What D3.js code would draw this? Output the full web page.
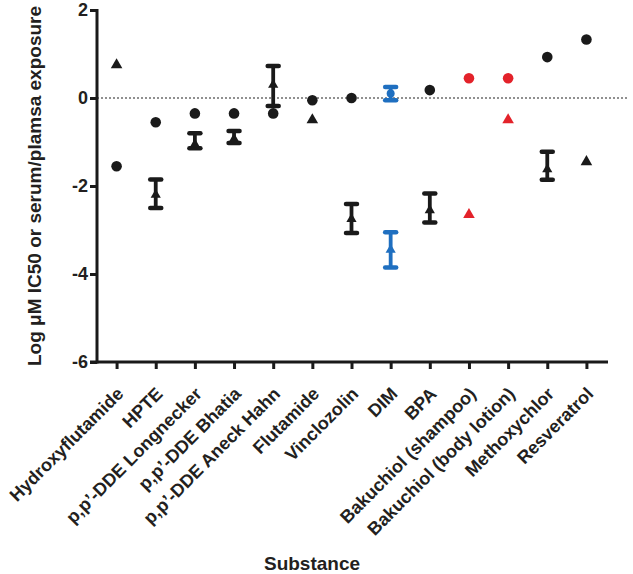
<!DOCTYPE html>
<html>
<head>
<meta charset="utf-8">
<script src="https://cdn.jsdelivr.net/npm/d3@7"></script>
<style>
  body { margin: 0; background: #fff; }
  svg text { font-family: "Liberation Sans", Arial, sans-serif; font-weight: bold; fill: #231f20; }
</style>
</head>
<body>
<svg id="chart" width="633" height="574"></svg>
<script>
const substances = ["Hydroxyflutamide", "HPTE", "p,p\u2019-DDE Longnecker", "p,p\u2019-DDE Bhatia",
  "p,p\u2019-DDE Aneck Hahn", "Flutamide", "Vinclozolin", "DIM", "BPA",
  "Bakuchiol (shampoo)", "Bakuchiol (body lotion)", "Methoxychlor", "Resveratrol"];
const groups = ["black", "black", "black", "black", "black", "black", "black", "blue", "black", "red", "red", "black", "black"];
// serum/plasma exposure (circles); low/high where a range is shown
const exposure     = [-1.55, -0.55, -0.35, -0.35, -0.35, -0.05, 0.0, 0.1, 0.18, 0.45, 0.45, 0.93, 1.33];
const exposureLow  = [null, null, null, null, null, null, null, -0.05, null, null, null, null, null];
const exposureHigh = [null, null, null, null, null, null, null, 0.25, null, null, null, null, null];
// IC50 (triangles); low/high where a range is shown
const ic50     = [0.75, -2.2, -1.05, -0.93, 0.3, -0.5, -2.75, -3.45, -2.55, -2.65, -0.5, -1.62, -1.45];
const ic50Low  = [null, -2.5, -1.14, -1.02, -0.18, null, -3.07, -3.85, -2.83, null, null, -1.86, null];
const ic50High = [null, -1.85, -0.8, -0.75, 0.73, null, -2.41, -3.05, -2.17, null, null, -1.22, null];
const yTicks = [-6, -4, -2, 0, 2];
const yTickLabels = ["-6", "-4", "-2", "0", "2"];

const colors = { black: "#1a1a1a", blue: "#1f6fc0", red: "#e3222a" };

const svg = d3.select("#chart");
const x = d3.scalePoint().domain(substances).range([97, 606]).padding(0.5);
const y = d3.scaleLinear().domain([-6, 2]).range([362, 10]);

// reference line at 0
svg.append("line")
  .attr("x1", x.range()[0]).attr("x2", 627)
  .attr("y1", y(0)).attr("y2", y(0))
  .attr("stroke", "#222").attr("stroke-width", 1.2).attr("stroke-dasharray", "2,2");

// Y axis
const yAxis = svg.append("g").attr("transform", `translate(${x.range()[0]},0)`)
  .call(d3.axisLeft(y).tickValues(yTicks).tickSize(7).tickPadding(2)
    .tickFormat((d, i) => yTickLabels[i]));
yAxis.select(".domain").remove();
yAxis.selectAll(".tick line").attr("stroke", "#1a1a1a").attr("stroke-width", 3);
yAxis.selectAll(".tick text").style("font-size", "18px").attr("fill", "#231f20");
svg.append("line").attr("x1", x.range()[0]).attr("x2", x.range()[0])
  .attr("y1", y(2) - 1).attr("y2", y(-6) + 1.5)
  .attr("stroke", "#1a1a1a").attr("stroke-width", 3);

// X axis
const xAxis = svg.append("g").attr("transform", `translate(0,${y(-6)})`)
  .call(d3.axisBottom(x).tickSize(7).tickFormat(""));
xAxis.select(".domain").remove();
xAxis.selectAll(".tick line").attr("stroke", "#1a1a1a").attr("stroke-width", 3);
svg.append("line").attr("x1", x.range()[0] - 7).attr("x2", 608)
  .attr("y1", y(-6)).attr("y2", y(-6))
  .attr("stroke", "#1a1a1a").attr("stroke-width", 3);

svg.append("g").selectAll("text").data(substances).join("text")
  .attr("transform", d => `translate(${x(d) + 8},${y(-6) + 33}) rotate(-45)`)
  .attr("text-anchor", "end")
  .style("font-size", "18px")
  .text(d => d);

// axis titles
svg.append("text").attr("x", 312).attr("y", 570).attr("text-anchor", "middle")
  .style("font-size", "19px").text("Substance");
svg.append("text").attr("transform", `translate(41,${(y(2) + y(-6)) / 2}) rotate(-90)`)
  .attr("text-anchor", "middle").style("font-size", "19px")
  .text("Log \u03BCM IC50 or serum/plamsa exposure");

// error bars
function errorBars(lo, hi) {
  const data = substances.map((s, i) => ({ s, g: groups[i], lo: lo[i], hi: hi[i] })).filter(d => d.lo !== null);
  const g = svg.append("g");
  g.selectAll("line.v").data(data).join("line")
    .attr("x1", d => x(d.s)).attr("x2", d => x(d.s))
    .attr("y1", d => y(d.lo)).attr("y2", d => y(d.hi))
    .attr("stroke", d => colors[d.g]).attr("stroke-width", 3.8);
  ["lo", "hi"].forEach(k => {
    g.selectAll("line.c" + k).data(data).join("line")
      .attr("x1", d => x(d.s) - 5.5).attr("x2", d => x(d.s) + 5.5)
      .attr("y1", d => y(d[k])).attr("y2", d => y(d[k]))
      .attr("stroke", d => colors[d.g]).attr("stroke-width", 4.5).attr("stroke-linecap", "round");
  });
}
errorBars(ic50Low, ic50High);
errorBars(exposureLow, exposureHigh);

// markers
const circ = substances.map((s, i) => ({ s, g: groups[i], v: exposure[i], bar: exposureLow[i] !== null }));
svg.append("g").selectAll("circle").data(circ).join("circle")
  .attr("cx", d => x(d.s)).attr("cy", d => y(d.v))
  .attr("r", d => d.bar ? 4 : 5.3)
  .attr("fill", d => colors[d.g]);

const tri = substances.map((s, i) => ({ s, g: groups[i], v: ic50[i], bar: ic50Low[i] !== null }));
svg.append("g").selectAll("path").data(tri).join("path")
  .attr("transform", d => `translate(${x(d.s)},${y(d.v)})`)
  .attr("d", d => d3.symbol(d3.symbolTriangle, d.bar ? 45 : 58)())
  .attr("fill", d => colors[d.g]);
</script>
</body>
</html>
